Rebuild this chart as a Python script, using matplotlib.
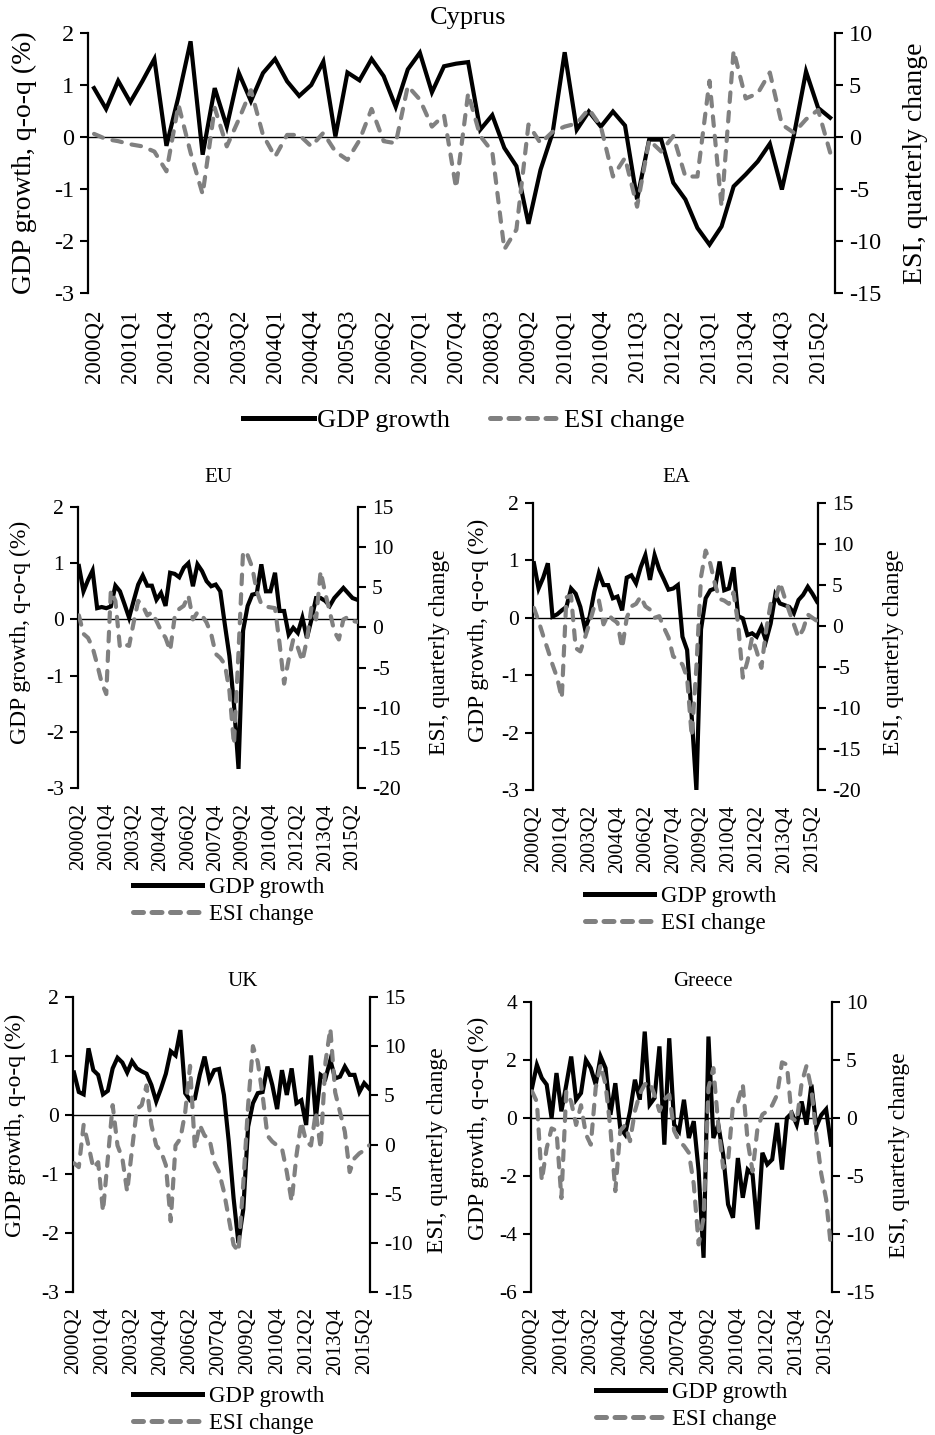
import matplotlib
matplotlib.use("Agg")
import matplotlib.pyplot as plt
from matplotlib.lines import Line2D

plt.rcParams['font.family'] = ['Liberation Serif', 'DejaVu Serif']
plt.rcParams['axes.unicode_minus'] = False

# categories: 2000Q2 .. 2015Q3
quarters = [f"{y}Q{q}" for y in range(2000, 2016) for q in range(1, 5)][1:63]

cyprus_ticks = ["2000Q2", "2001Q1", "2001Q4", "2002Q3", "2003Q2", "2004Q1", "2004Q4",
                "2005Q3", "2006Q2", "2007Q1", "2007Q4", "2008Q3", "2009Q2", "2010Q1",
                "2010Q4", "2011Q3", "2012Q2", "2013Q1", "2013Q4", "2014Q3", "2015Q2"]
small_ticks = ["2000Q2", "2001Q4", "2003Q2", "2004Q4", "2006Q2", "2007Q4", "2009Q2",
               "2010Q4", "2012Q2", "2013Q4", "2015Q2"]

cyprus_gdp = [0.94, 0.54, 1.08, 0.67, 1.07, 1.50, -0.17, 0.78, 1.84, -0.34, 0.94, 0.20, 1.23, 0.69,
              1.23, 1.50, 1.07, 0.79, 1.00, 1.45, 0.01, 1.24, 1.09, 1.50, 1.17, 0.58, 1.30, 1.62,
              0.86, 1.36, 1.41, 1.44, 0.14, 0.42, -0.21, -0.56, -1.67, -0.63, 0.08, 1.63, 0.14,
              0.49, 0.20, 0.49, 0.22, -1.20, -0.05, -0.05, -0.88, -1.20, -1.75, -2.07, -1.72,
              -0.95, -0.72, -0.47, -0.13, -1.01, 0.04, 1.26, 0.56, 0.37]
cyprus_esi = [0.3, -0.2, -0.4, -0.7, -0.9, -1.4, -3.3, 3.1, -1.5, -5.5, 2.8, -0.9, 1.7, 4.5, 0.2,
              -1.9, 0.2, 0.2, -0.9, 0.4, -1.4, -2.2, -0.3, 2.7, -0.4, -0.6, 4.9, 3.6, 1.0, 2.1,
              -4.9, 4.2, 0.1, -1.4, -10.8, -8.9, 1.2, -0.6, 0.5, 1.0, 1.3, 2.7, 1.0, -3.8, -2.0,
              -6.7, -0.3, -1.4, 0.1, -3.8, -3.8, 5.4, -6.7, 8.3, 3.7, 4.2, 6.2, 1.2, 0.4, 1.7,
              2.6, -1.5]

eu_gdp = [0.95, 0.50, 0.70, 0.87, 0.20, 0.22, 0.20, 0.23, 0.60, 0.50, 0.27, 0.03, 0.33, 0.62,
          0.78, 0.60, 0.60, 0.35, 0.47, 0.24, 0.83, 0.81, 0.75, 0.92, 1.00, 0.59, 0.98, 0.86,
          0.68, 0.59, 0.62, 0.50, -0.09, -0.65, -1.51, -2.66, -0.20, 0.24, 0.44, 0.46, 0.98,
          0.50, 0.50, 0.83, 0.15, 0.15, -0.27, -0.15, -0.24, 0.03, -0.33, 0.00, 0.38, 0.38,
          0.33, 0.24, 0.38, 0.47, 0.56, 0.47, 0.38, 0.35]
eu_esi = [1.5, -0.8, -1.3, -2.5, -4.6, -6.9, -8.3, 4.6, 3.3, -2.5, -2.1, -2.3, 0.6, 3.3, 2.7,
          1.5, 1.9, 0.8, -0.4, -1.3, -2.9, 1.3, 2.3, 2.7, 4.0, 1.0, 1.9, 1.5, 0.6, -0.8, -3.3,
          -3.8, -4.6, -7.9, -14.6, -3.0, 9.5, 9.0, 7.5, 4.5, 2.9, 2.6, 2.5, 2.4, -2.0, -7.0,
          -4.0, -1.5, -2.5, -4.2, -1.5, 2.5, 1.0, 7.0, 4.3, 2.0, -0.5, -1.5, 1.0, 1.3, 0.8, 0.7]

ea_gdp = [0.95, 0.51, 0.70, 0.95, 0.02, 0.06, 0.13, 0.19, 0.51, 0.42, 0.19, -0.19, 0.02, 0.45,
          0.78, 0.57, 0.57, 0.34, 0.37, 0.13, 0.70, 0.74, 0.60, 0.88, 1.09, 0.66, 1.09, 0.84,
          0.67, 0.49, 0.51, 0.57, -0.33, -0.56, -1.73, -3.00, -0.20, 0.34, 0.48, 0.51, 0.98,
          0.48, 0.51, 0.88, 0.03, -0.01, -0.30, -0.27, -0.33, -0.16, -0.40, -0.10, 0.40, 0.25,
          0.22, 0.19, 0.08, 0.31, 0.40, 0.54, 0.42, 0.28]
ea_esi = [2.2, 0.6, -1.2, -2.9, -4.7, -6.3, -8.8, 3.5, 3.7, -2.7, -3.1, -1.4, 0.4, 2.4, 3.1, 0.2,
          1.4, 0.8, 0.4, -2.7, 1.0, 2.4, 2.7, 3.6, 2.4, 2.0, 1.0, 1.2, -0.2, -1.4, -3.7, -4.1,
          -4.7, -6.3, -13.5, -5.0, 6.0, 9.2, 7.6, 5.1, 3.3, 3.1, 2.7, 4.1, 0.2, -6.3, -4.3,
          -1.4, -3.1, -5.1, -0.6, 2.7, 3.1, 5.3, 3.5, 1.8, 0.2, -1.4, -0.4, 1.4, 1.0, 0.6]

uk_gdp = [0.72, 0.39, 0.35, 1.13, 0.76, 0.68, 0.35, 0.41, 0.79, 0.97, 0.89, 0.72, 0.91, 0.79,
          0.74, 0.70, 0.51, 0.23, 0.45, 0.70, 1.08, 1.01, 1.44, 0.37, 0.25, 0.28, 0.68, 0.99,
          0.59, 0.76, 0.78, 0.34, -0.45, -1.41, -2.17, -1.60, -0.20, 0.20, 0.37, 0.39, 0.82,
          0.51, 0.10, 0.76, 0.34, 0.79, 0.20, 0.25, -0.17, 1.01, -0.06, 0.68, 0.62, 0.93, 0.62,
          0.65, 0.82, 0.68, 0.68, 0.39, 0.54, 0.45]
uk_esi = [-1.9, -2.3, 2.0, -0.1, -2.4, -1.8, -6.8, -1.4, 4.0, -0.1, -1.4, -4.8, -0.5, 3.6, 4.0,
          6.0, 2.0, -0.1, -0.7, -2.1, -7.8, -0.1, 0.6, 3.3, 8.0, -0.4, 2.0, 0.9, 0.6, -1.8, -2.8,
          -4.8, -7.5, -10.2, -10.9, -4.0, 4.0, 10.0, 8.4, 5.0, 0.9, 0.3, -0.1, -0.4, -2.8, -5.8,
          -1.1, 2.3, 0.3, -0.1, 3.3, -0.4, 8.4, 11.8, 5.3, 3.3, 1.3, -2.8, -1.4, -0.9, -0.6, -0.1]

greece_gdp = [1.03, 1.83, 1.38, 1.15, 0.00, 1.55, 0.23, 1.15, 2.12, 0.63, 0.86, 2.00, 1.72, 1.15,
              2.12, 1.72, 0.11, 1.20, -0.34, -0.57, 0.23, 1.32, 0.63, 2.98, 0.46, 0.69, 2.47,
              -0.92, 2.75, -0.23, -0.46, 0.63, -0.69, -0.11, -1.83, -4.82, 2.81, -0.69, -0.23,
              -1.26, -2.98, -3.44, -1.38, -2.75, -1.78, -1.95, -3.84, -1.20, -1.60, -1.43, -0.17,
              -1.78, 0.00, 0.17, -0.23, 0.57, -0.23, 1.15, -0.30, 0.10, 0.30, -0.92]
greece_esi = [2.3, 1.4, -5.4, -2.6, -0.9, -1.1, -6.9, 2.3, 1.4, -0.6, 1.1, -1.4, -2.3, 2.6, 4.6,
              2.9, -0.9, -6.3, -1.1, -0.6, -2.0, 0.6, 2.1, 2.9, 3.1, 2.0, 0.6, 1.6, 2.0, -1.1,
              -2.0, -2.4, -3.0, -5.7, -10.9, -8.6, 2.6, 4.3, -0.6, -4.3, -3.7, 1.1, 1.4, 2.9,
              -2.0, -4.6, -0.9, 0.3, 0.6, 1.1, 2.0, 4.8, 4.6, 0.0, -0.3, 3.0, 4.5, 2.5, -1.5,
              -4.8, -7.0, -11.2]

W, H = 935, 1435
fig = plt.figure(figsize=(W / 100, H / 100), dpi=100)


def fx(px):
    return px / W


def fy(py):
    return 1 - py / H


GREY = '#808080'
LW = 3.0
DASH = [2.3, 2.4]


def panel(box, gdp, esi, yl, ylt, yr, yrt, ticks, xlim, fs_tick, fs_xtick, xpad):
    x0, y0, x1, y1 = box
    ax = fig.add_axes([fx(x0), fy(y1), fx(x1) - fx(x0), fy(y0) - fy(y1)])
    xs = list(range(len(quarters)))
    ax.axhline(0, color='black', lw=1.0, zorder=1)
    ax.plot(xs, gdp, color='black', lw=LW, solid_joinstyle='miter', zorder=3)
    ax.set_ylim(*yl)
    ax.set_yticks(ylt)
    ax.set_yticklabels([str(v) for v in ylt])
    ax.set_xlim(*xlim)
    idx = [quarters.index(t) for t in ticks]
    ax.set_xticks(idx)
    ax.set_xticklabels(ticks, rotation=90, fontsize=fs_xtick, va='top')
    ax.tick_params(axis='x', length=0, pad=xpad)
    ax.tick_params(axis='y', direction='out', length=6, width=1.5, labelsize=fs_tick, pad=4)
    for s in ['top', 'bottom', 'right']:
        ax.spines[s].set_visible(False)
    ax.spines['left'].set_linewidth(1.6)

    ax2 = ax.twinx()
    ln, = ax2.plot(xs, esi, color=GREY, lw=LW, zorder=3)
    ln.set_dashes(DASH)
    ln.set_dash_capstyle('round')
    ax2.set_ylim(*yr)
    ax2.set_yticks(yrt)
    ax2.set_yticklabels([str(v) for v in yrt])
    ax2.tick_params(axis='y', direction='out', length=6, width=1.5, labelsize=fs_tick, pad=4)
    for s in ['top', 'bottom', 'left']:
        ax2.spines[s].set_visible(False)
    ax2.spines['right'].set_linewidth(1.6)
    return ax, ax2


def handles():
    h1 = Line2D([], [], color='black', lw=3.6)
    h2 = Line2D([], [], color=GREY, lw=3.6)
    h2.set_dashes([2.0, 1.7])
    h2.set_dash_capstyle('round')
    return [h1, h2]


LABELS = ['GDP growth', 'ESI change']
YL = 'GDP growth, q-o-q (%)'
YR = 'ESI, quarterly change'

# ---- Cyprus ----
panel((88, 33, 835, 293), cyprus_gdp, cyprus_esi, (-3, 2), [-3, -2, -1, 0, 1, 2],
      (-15, 10), [-15, -10, -5, 0, 5, 10], cyprus_ticks, (-0.5, 61.4), 17.5, 16.5, 12)
fig.text(fx(468), fy(18), 'Cyprus', ha='center', va='center', fontsize=19)
fig.text(fx(24), fy(163), YL, rotation=90, ha='center', va='center', fontsize=20)
fig.text(fx(915), fy(163), YR, rotation=90, ha='center', va='center', fontsize=20)
fig.legend(handles(), LABELS, loc='center', bbox_to_anchor=(fx(464), fy(420)), ncol=2,
           frameon=False, fontsize=19, handlelength=2.7, handletextpad=0.12,
           columnspacing=1.5, borderpad=0, borderaxespad=0)

# ---- small panels ----
small = [
    ('EU', (78, 507, 358, 788), eu_gdp, eu_esi, (-3, 2), [-3, -2, -1, 0, 1, 2],
     (-20, 15), [-20, -15, -10, -5, 0, 5, 10, 15], (218, 478), (20, 632), (440, 652), (133, 901)),
    ('EA', (533, 503, 818, 790), ea_gdp, ea_esi, (-3, 2), [-3, -2, -1, 0, 1, 2],
     (-20, 15), [-20, -15, -10, -5, 0, 5, 10, 15], (676, 478), (478, 630), (893, 652), (585, 910)),
    ('UK', (73, 997, 370, 1292), uk_gdp, uk_esi, (-3, 2), [-3, -2, -1, 0, 1, 2],
     (-15, 15), [-15, -10, -5, 0, 5, 10, 15], (243, 981), (15, 1125), (437, 1150), (133, 1410)),
    ('Greece', (531, 1002, 832, 1292), greece_gdp, greece_esi, (-6, 4), [-6, -4, -2, 0, 2, 4],
     (-15, 10), [-15, -10, -5, 0, 5, 10], (703, 981), (478, 1128), (900, 1155), (596, 1406)),
]

for name, box, g, e, yl, ylt, yr, yrt, tpos, lpos, rpos, legpos in small:
    panel(box, g, e, yl, ylt, yr, yrt, small_ticks, (-0.2, 61.2), 15.5, 15, 11)
    fig.text(fx(tpos[0]), fy(tpos[1]), name, ha='center', va='center', fontsize=15)
    fig.text(fx(lpos[0]), fy(lpos[1]), YL, rotation=90, ha='center', va='center', fontsize=17)
    fig.text(fx(rpos[0]), fy(rpos[1]), YR, rotation=90, ha='center', va='center', fontsize=17)
    fig.legend(handles(), LABELS, loc='center left', bbox_to_anchor=(fx(legpos[0]), fy(legpos[1])),
               ncol=1, frameon=False, fontsize=16.5, handlelength=3.0, handletextpad=0.3,
               labelspacing=0.25, borderpad=0, borderaxespad=0)

fig.savefig('out.png', dpi=100)
